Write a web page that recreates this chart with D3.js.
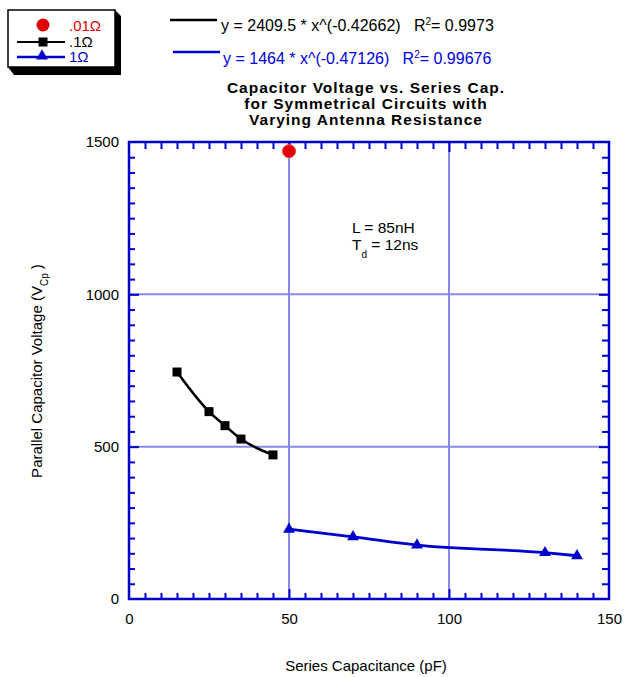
<!DOCTYPE html>
<html>
<head>
<meta charset="utf-8">
<script src="https://cdn.jsdelivr.net/npm/d3@7"></script>
<style>
  body { margin: 0; background: #fff; }
  text { font-family: "Liberation Sans", Arial, sans-serif; white-space: pre; }
</style>
</head>
<body>
<div class="chart"></div>
<script>
var svgWidth = 625;
var svgHeight = 677;

// plot frame in page pixels
var margin = { top: 142, right: 16, bottom: 78, left: 129 };
var width = svgWidth - margin.left - margin.right;
var height = svgHeight - margin.top - margin.bottom;

// data
var redX = [50];
var redY = [1470];

var blackX = [15, 25, 30, 35, 45];
var blackY = [745, 615, 569, 525, 473];

var blueX = [50, 70, 90, 130, 140];
var blueY = [229, 204, 177, 152, 142];

var xTicks = [0, 50, 100, 150];
var yTicks = [0, 500, 1000, 1500];

var frameBlue = "#0000cc";
var gridBlue = "#8888e8";

var svg = d3.select(".chart")
  .append("svg")
  .attr("width", svgWidth)
  .attr("height", svgHeight);

var chartGroup = svg.append("g")
  .attr("transform", `translate(${margin.left}, ${margin.top})`);

var xScale = d3.scaleLinear().domain([0, 150]).range([0, width]);
var yScale = d3.scaleLinear().domain([0, 1500]).range([height, 0]);

// grid lines
chartGroup.selectAll(".vgrid")
  .data([50, 100])
  .enter()
  .append("line")
  .attr("x1", d => xScale(d)).attr("x2", d => xScale(d))
  .attr("y1", 0).attr("y2", height)
  .attr("stroke", gridBlue).attr("stroke-width", 2);

chartGroup.selectAll(".hgrid")
  .data([500, 1000])
  .enter()
  .append("line")
  .attr("x1", 0).attr("x2", width)
  .attr("y1", d => yScale(d)).attr("y2", d => yScale(d))
  .attr("stroke", gridBlue).attr("stroke-width", 2);

// inward tick marks on all four sides
function tickAxis(axisFn, scale, values, size, transform) {
  var g = chartGroup.append("g")
    .attr("transform", transform)
    .call(axisFn(scale).tickValues(values).tickSize(size).tickFormat(""));
  g.select(".domain").remove();
  g.selectAll("line").attr("stroke", frameBlue).attr("stroke-width", 2);
}

var xMinor = d3.range(5, 150, 5).filter(d => d % 50 !== 0);
var xMajor = [50, 100];
var yMinor = d3.range(50, 1500, 50).filter(d => d % 500 !== 0);
var yMajor = [500, 1000];

tickAxis(d3.axisBottom, xScale, xMinor, -6, `translate(0, ${height})`);
tickAxis(d3.axisBottom, xScale, xMajor, -10, `translate(0, ${height})`);
tickAxis(d3.axisTop, xScale, xMinor, -7, "translate(0, 0)");
tickAxis(d3.axisTop, xScale, xMajor, -10, "translate(0, 0)");
tickAxis(d3.axisLeft, yScale, yMinor, -6, "translate(0, 0)");
tickAxis(d3.axisLeft, yScale, yMajor, -10, "translate(0, 0)");
tickAxis(d3.axisRight, yScale, yMinor, -7, `translate(${width}, 0)`);
tickAxis(d3.axisRight, yScale, yMajor, -10, `translate(${width}, 0)`);

// frame
chartGroup.append("rect")
  .attr("width", width).attr("height", height)
  .attr("fill", "none")
  .attr("stroke", frameBlue).attr("stroke-width", 2.5);

// tick labels
var bottomAxis = chartGroup.append("g")
  .attr("transform", `translate(0, ${height})`)
  .call(d3.axisBottom(xScale).tickValues(xTicks).tickSize(0).tickPadding(14).tickFormat(d3.format("d")));
bottomAxis.select(".domain").remove();
bottomAxis.selectAll("text")
  .style("font-size", "15px").style("font-family", "Liberation Sans, Arial, sans-serif")
  .attr("fill", "#000");

var leftAxis = chartGroup.append("g")
  .call(d3.axisLeft(yScale).tickValues(yTicks).tickSize(0).tickPadding(10).tickFormat(d3.format("d")));
leftAxis.select(".domain").remove();
leftAxis.selectAll("text")
  .style("font-size", "15px").style("font-family", "Liberation Sans, Arial, sans-serif")
  .attr("fill", "#000");

// series lines
var blackPts = blackX.map((x, i) => [x, blackY[i]]);
var bluePts = blueX.map((x, i) => [x, blueY[i]]);

var line = d3.line()
  .x(d => xScale(d[0]))
  .y(d => yScale(d[1]))
  .curve(d3.curveMonotoneX);

chartGroup.append("path")
  .attr("d", line(blackPts))
  .attr("fill", "none").attr("stroke", "#000").attr("stroke-width", 2.6);

chartGroup.append("path")
  .attr("d", line(bluePts))
  .attr("fill", "none").attr("stroke", "#0000cc").attr("stroke-width", 2.8);

// markers
chartGroup.selectAll(".sq")
  .data(blackPts)
  .enter()
  .append("rect")
  .attr("x", d => xScale(d[0]) - 4.5)
  .attr("y", d => yScale(d[1]) - 4.5)
  .attr("width", 9).attr("height", 9)
  .attr("fill", "#000");

var tri = d3.symbol().type(d3.symbolTriangle).size(60);
chartGroup.selectAll(".tri")
  .data(bluePts)
  .enter()
  .append("path")
  .attr("d", tri)
  .attr("transform", d => `translate(${xScale(d[0])}, ${yScale(d[1])})`)
  .attr("fill", "#0000cc");

chartGroup.selectAll(".dot")
  .data(redX.map((x, i) => [x, redY[i]]))
  .enter()
  .append("circle")
  .attr("cx", d => xScale(d[0]))
  .attr("cy", d => yScale(d[1]))
  .attr("r", 6.5)
  .attr("fill", "#e00000")
  .attr("stroke", "#ff4040").attr("stroke-width", 1);

// title
var title = svg.append("text")
  .attr("text-anchor", "middle")
  .style("font-size", "15.5px").style("font-weight", "bold")
  .style("letter-spacing", "1px");
["Capacitor Voltage vs. Series Cap.", "for Symmetrical Circuits with", "Varying Antenna Resistance"]
  .forEach(function(t, i) {
    title.append("tspan").attr("x", 366).attr("y", 93 + i * 16).text(t);
  });

// annotation
svg.append("text").attr("x", 352).attr("y", 233)
  .style("font-size", "15.5px").text("L = 85nH");
var td = svg.append("text").attr("x", 352).attr("y", 250).style("font-size", "15.5px");
td.append("tspan").text("T");
td.append("tspan").attr("dy", 8).style("font-size", "10px").text("d");
td.append("tspan").attr("dy", -8).text(" = 12ns");

// axis titles
svg.append("text")
  .attr("x", 366).attr("y", 671)
  .attr("text-anchor", "middle")
  .style("font-size", "15px")
  .text("Series Capacitance (pF)");

var yLabel = svg.append("text")
  .attr("transform", "translate(42, 371) rotate(-90)")
  .attr("text-anchor", "middle")
  .style("font-size", "15px");
yLabel.append("tspan").text("Parallel Capacitor Voltage (V");
yLabel.append("tspan").attr("dy", 6).style("font-size", "10px").text("Cp");
yLabel.append("tspan").attr("dy", -6).text(" )");

// fit equations
svg.append("line").attr("x1", 170).attr("x2", 217).attr("y1", 20).attr("y2", 20)
  .attr("stroke", "#000").attr("stroke-width", 2.5);
var eq1 = svg.append("text").attr("x", 221).attr("y", 31).style("font-size", "16px").attr("fill", "#000");
eq1.append("tspan").text("y = 2409.5 * x^(-0.42662)   R");
eq1.append("tspan").attr("dy", -6).style("font-size", "10px").text("2");
eq1.append("tspan").attr("dy", 6).text("= 0.9973");

svg.append("line").attr("x1", 173).attr("x2", 220).attr("y1", 52).attr("y2", 52)
  .attr("stroke", "#0000dd").attr("stroke-width", 2.5);
var eq2 = svg.append("text").attr("x", 223).attr("y", 64).style("font-size", "16px").attr("fill", "#0000dd");
eq2.append("tspan").text("y = 1464 * x^(-0.47126)   R");
eq2.append("tspan").attr("dy", -6).style("font-size", "10px").text("2");
eq2.append("tspan").attr("dy", 6).text("= 0.99676");

// legend box with shadow
svg.append("path")
  .attr("d", "M115,10 L121,16 L121,75 L14,75 L8,67 L115,67 Z")
  .attr("fill", "#000");
svg.append("rect")
  .attr("x", 8).attr("y", 10).attr("width", 107).attr("height", 57)
  .attr("fill", "#fff").attr("stroke", "#000").attr("stroke-width", 1.5);

svg.append("circle").attr("cx", 43).attr("cy", 25).attr("r", 6.5).attr("fill", "#e00000");
svg.append("text").attr("x", 69).attr("y", 31).style("font-size", "15px").attr("fill", "#e00000").text(".01Ω");

svg.append("line").attr("x1", 17).attr("x2", 65).attr("y1", 42).attr("y2", 42)
  .attr("stroke", "#000").attr("stroke-width", 2);
svg.append("rect").attr("x", 38.5).attr("y", 37.5).attr("width", 9).attr("height", 9).attr("fill", "#000");
svg.append("text").attr("x", 69).attr("y", 46.5).style("font-size", "15px").attr("fill", "#000").text(".1Ω");

svg.append("line").attr("x1", 17).attr("x2", 65).attr("y1", 57).attr("y2", 57)
  .attr("stroke", "#0000cc").attr("stroke-width", 2.5);
svg.append("path").attr("d", tri).attr("transform", "translate(42, 56)").attr("fill", "#0000cc");
svg.append("text").attr("x", 69).attr("y", 62).style("font-size", "15px").attr("fill", "#0000cc").text("1Ω");
</script>
</body>
</html>
